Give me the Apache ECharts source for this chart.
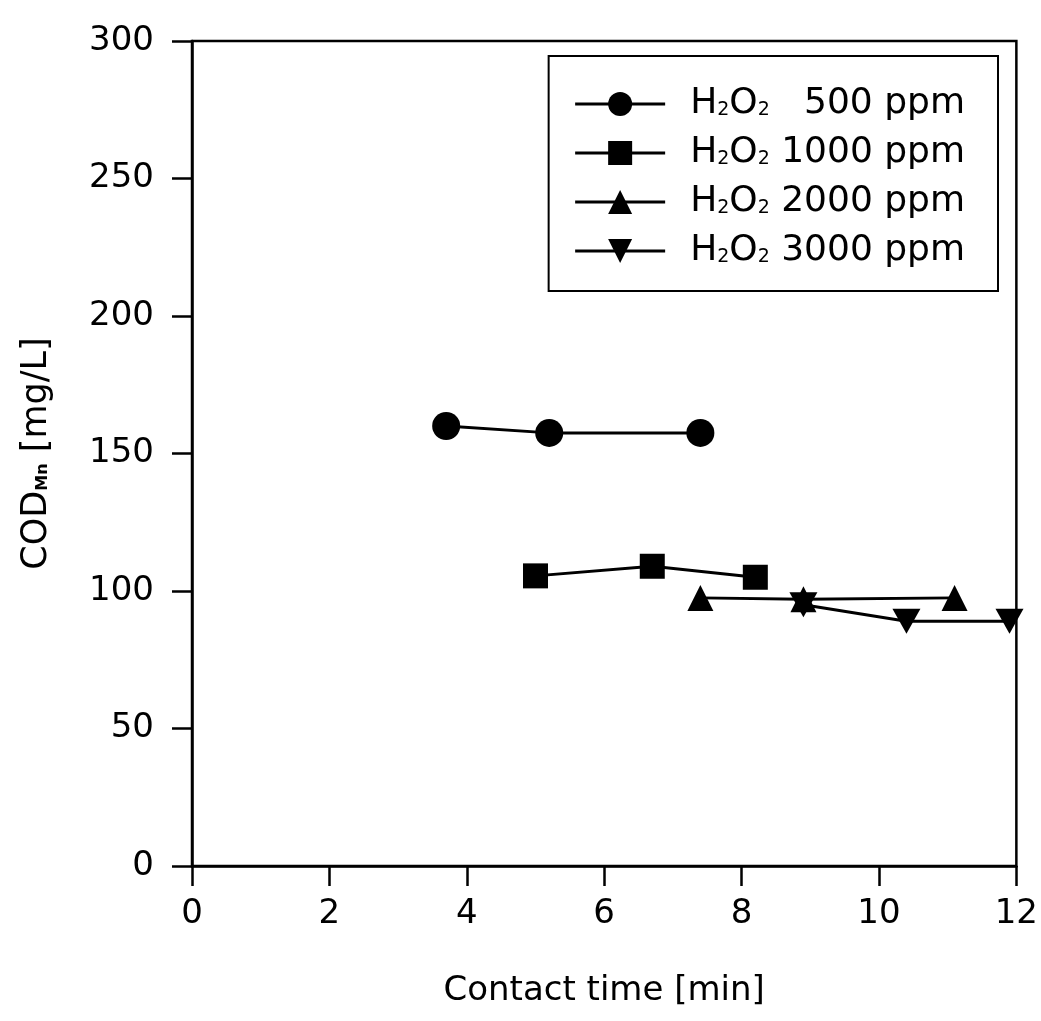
<!DOCTYPE html>
<html>
<head>
<meta charset="utf-8">
<script src="https://cdn.jsdelivr.net/npm/echarts@6/dist/echarts.min.js"></script>
<style>
    html, body { margin: 0; padding: 0; background: #fff; }
    #chart { width: 1041px; height: 1021px; }
</style>
</head>
<body>
<div id="chart"></div>
<script>
// contact time [min] / COD [mg/L]
const time500 = [3.7, 5.2, 7.4]
const cod500 = [160, 157.5, 157.5]
const time1000 = [5.0, 6.7, 8.2]
const cod1000 = [105.5, 109, 105]
const time2000 = [7.4, 8.9, 11.1]
const cod2000 = [97.5, 97, 97.5]
const time3000 = [8.9, 10.4, 11.9]
const cod3000 = [95, 89, 89]

const xTicks = [0, 2, 4, 6, 8, 10, 12]
const yTicks = [0, 50, 100, 150, 200, 250, 300]

const names = ['500', '1000', '2000', '3000']
const labels = {
    '500': '   500 ppm',
    '1000': ' 1000 ppm',
    '2000': ' 2000 ppm',
    '3000': ' 3000 ppm'
}

const pairs = function (xs, ys) {
    const out = []
    for (let i = 0; i < xs.length; i++) {
        out.push([xs[i], ys[i]])
    }
    return out
}

const downTriangle = 'path://M0,0 L10,0 L5,9 Z'

const makeSeries = function (name, xs, ys, symbol, size) {
    return {
        name: name,
        type: 'line',
        data: pairs(xs, ys),
        symbol: symbol,
        symbolSize: size,
        itemStyle: { color: '#000' },
        lineStyle: { color: '#000', width: 3 },
        z: 3
    }
}

const myChart = echarts.init(document.getElementById('chart'))

const font = 'DejaVu Sans, sans-serif'

const option = {
    animation: false,
    backgroundColor: '#fff',
    grid: {
        left: 192,
        right: 23,
        top: 41,
        bottom: 155,
        show: true,
        borderColor: '#000',
        borderWidth: 2.5
    },
    legend: {
        data: names,
        right: 43,
        top: 56,
        orient: 'vertical',
        itemWidth: 90,
        itemHeight: 30,
        itemGap: 13,
        padding: [30, 33, 22, 25],
        borderColor: '#000',
        borderWidth: 2,
        lineStyle: { width: 3 },
        formatter: function (n) {
            return '{g|}{a|H}{s|2}{a|O}{s|2}{a|' + labels[n] + '}'
        },
        textStyle: {
            rich: {
                g: { width: 20 },
                a: { fontFamily: font, fontSize: 36, color: '#000', lineHeight: 30 },
                s: { fontFamily: font, fontSize: 19, color: '#000', lineHeight: 30, padding: [12, 0, 0, 0] }
            }
        }
    },
    xAxis: {
        type: 'value',
        min: 0,
        max: 12,
        interval: 2,
        name: 'Contact time [min]',
        nameLocation: 'middle',
        nameGap: 108,
        nameTextStyle: { fontFamily: font, fontSize: 34, color: '#000' },
        axisLine: { show: true, onZero: false, lineStyle: { color: '#000', width: 2.5 } },
        axisTick: { show: true, inside: false, length: 20, lineStyle: { color: '#000', width: 2.5 } },
        axisLabel: {
            margin: 31,
            fontFamily: font,
            fontSize: 34,
            color: '#000',
            formatter: function (v) { return xTicks.indexOf(v) >= 0 ? String(v) : '' }
        },
        splitLine: { show: false }
    },
    yAxis: {
        type: 'value',
        min: 0,
        max: 300,
        interval: 50,
        name: '{a|COD}{s|Mn}{a| [mg/L]}',
        nameLocation: 'middle',
        nameRotate: 90,
        nameGap: 138,
        nameTextStyle: {
            rich: {
                a: { fontFamily: font, fontSize: 35, color: '#000' },
                s: { fontFamily: font, fontSize: 16, color: '#000', fontWeight: 'bold', padding: [12, 0, 0, 0] }
            }
        },
        axisLine: { show: true, lineStyle: { color: '#000', width: 2.5 } },
        axisTick: { show: true, inside: false, length: 20, lineStyle: { color: '#000', width: 2.5 } },
        axisLabel: {
            margin: 38,
            fontFamily: font,
            fontSize: 34,
            color: '#000',
            formatter: function (v) { return yTicks.indexOf(v) >= 0 ? String(v) : '' }
        },
        splitLine: { show: false }
    },
    series: [
        makeSeries('500', time500, cod500, 'circle', 28),
        makeSeries('1000', time1000, cod1000, 'rect', 25),
        makeSeries('2000', time2000, cod2000, 'triangle', 26),
        makeSeries('3000', time3000, cod3000, downTriangle, [28, 25])
    ]
}

myChart.setOption(option)
</script>
</body>
</html>
